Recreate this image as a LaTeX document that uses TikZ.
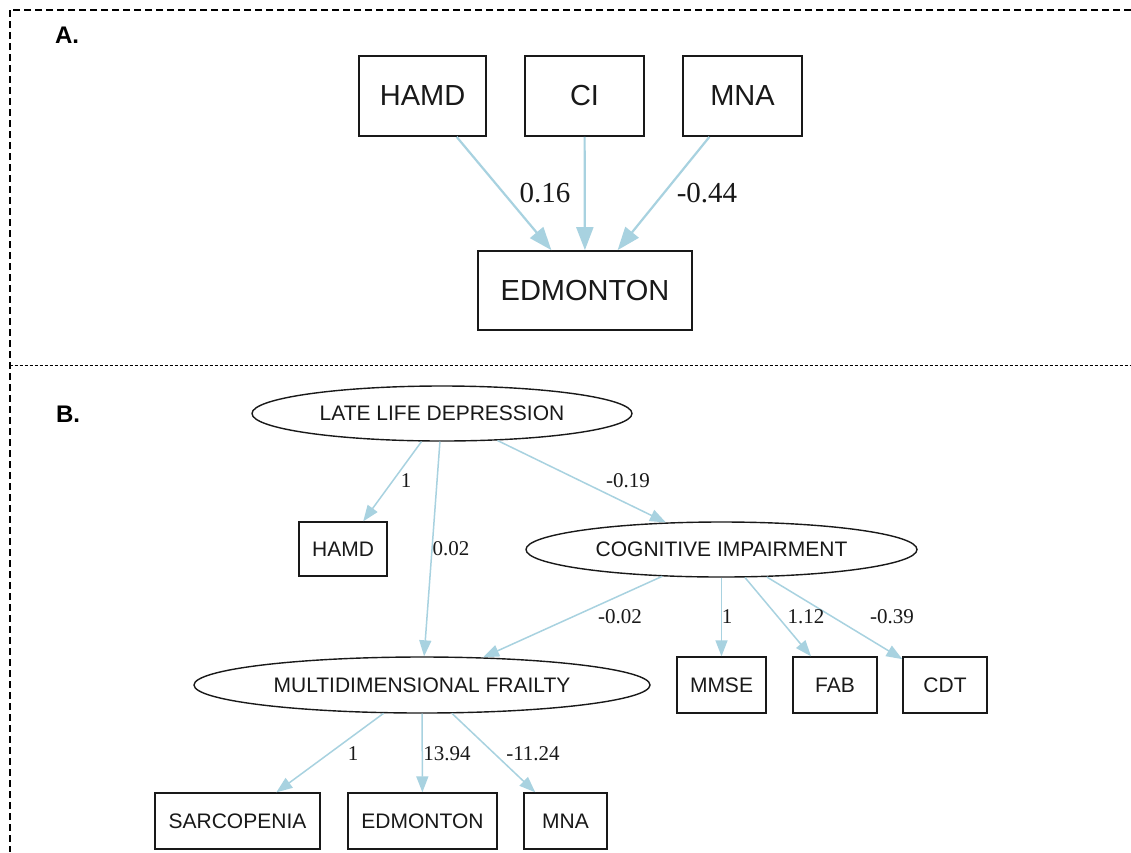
\documentclass[tikz,border=0pt]{standalone}
\usepackage{fontspec}
\setmainfont{Liberation Serif}
\setsansfont{Liberation Sans}
\usetikzlibrary{arrows.meta,shapes.geometric}
\definecolor{edgeblue}{RGB}{168,210,224}
\definecolor{ink}{RGB}{25,25,25}
\begin{document}
\begin{tikzpicture}[x=1pt,y=-1pt,
  boxA/.style={draw=ink, line width=1.8pt, rectangle, inner sep=0pt, text=ink,
    font=\sffamily\fontsize{29}{34}\selectfont},
  boxB/.style={draw=ink, line width=1.4pt, rectangle, inner sep=0pt, text=ink,
    font=\sffamily\fontsize{21}{25}\selectfont},
  latent/.style={draw=ink, line width=1.4pt, ellipse, inner sep=0pt, text=ink,
    font=\sffamily\fontsize{21}{25}\selectfont},
  edgeA/.style={draw=edgeblue, line width=2.2pt, -{Triangle[length=23pt,width=17pt]}},
  edgeB/.style={draw=edgeblue, line width=1.5pt, -{Triangle[length=16pt,width=12pt]}},
  labA/.style={inner sep=0pt, text=ink, font=\fontsize{29}{34}\selectfont},
  labB/.style={inner sep=0pt, text=ink, font=\fontsize{21}{25}\selectfont},
  panel/.style={inner sep=0pt, text=black, font=\sffamily\bfseries\fontsize{24}{28}\selectfont}
]
\useasboundingbox (0,0) rectangle (1131,852);
\fill[white] (0,0) rectangle (1131,852);

% frame
\draw[line width=2pt, dash pattern=on 7pt off 4pt] (1131,9.5) -- (9.5,9.5) -- (9.5,852);
\draw[line width=1pt, dash pattern=on 3pt off 2pt] (9.5,365) -- (1131,365);

% panel labels
\node[panel] (pA) at (67,35) {A.};
\node[panel] (pB) at (68,414) {B.};

% ---------- Panel A ----------
\node[boxA, minimum width=127, minimum height=80] (hamdA) at (422.5,96) {HAMD};
\node[boxA, minimum width=119, minimum height=80] (ciA) at (584.5,96) {CI};
\node[boxA, minimum width=119, minimum height=80] (mnaA) at (742.5,96) {MNA};
\node[boxA, minimum width=214, minimum height=79] (edmA) at (585,290.5) {EDMONTON};

\draw[edgeA] (hamdA) -- (edmA);
\draw[edgeA] (ciA) -- (edmA);
\draw[edgeA] (mnaA) -- (edmA);

\node[labA] (lA1) at (545,193) {0.16};
\node[labA] (lA2) at (707,193) {-0.44};

% ---------- Panel B ----------
\node[latent, minimum width=380, minimum height=55] (lld) at (442,413.5) {LATE LIFE DEPRESSION};
\node[boxB, minimum width=88, minimum height=54] (hamdB) at (343,549) {HAMD};
\node[latent, minimum width=391, minimum height=55] (ci) at (721.5,549.5) {COGNITIVE IMPAIRMENT};
\node[latent, minimum width=456, minimum height=56] (mf) at (422,685) {MULTIDIMENSIONAL FRAILTY};
\node[boxB, minimum width=89, minimum height=56] (mmse) at (721.5,685) {MMSE};
\node[boxB, minimum width=84, minimum height=56] (fab) at (835,685) {FAB};
\node[boxB, minimum width=84, minimum height=56] (cdt) at (945,685) {CDT};
\node[boxB, minimum width=165, minimum height=56] (sarc) at (237.5,821) {SARCOPENIA};
\node[boxB, minimum width=149, minimum height=56] (edmB) at (422.5,821) {EDMONTON};
\node[boxB, minimum width=83, minimum height=56] (mnaB) at (565.5,821) {MNA};

\draw[edgeB] (lld) -- (hamdB);
\draw[edgeB] (lld) -- (ci);
\draw[edgeB] (lld) -- (mf);
\draw[edgeB] (ci) -- (mf);
\draw[edgeB] (ci) -- (mmse);
\draw[edgeB] (ci) -- (fab);
\draw[edgeB] (ci) -- (cdt);
\draw[edgeB] (mf) -- (sarc);
\draw[edgeB] (mf) -- (edmB);
\draw[edgeB] (mf) -- (mnaB);

\node[labB] (l1) at (406,481) {1};
\node[labB] (l2) at (628,481) {-0.19};
\node[labB] (l3) at (451,549) {0.02};
\node[labB] (l4) at (620,617) {-0.02};
\node[labB] (l5) at (727,617) {1};
\node[labB] (l6) at (806,617) {1.12};
\node[labB] (l7) at (892,617) {-0.39};
\node[labB] (l8) at (353,754) {1};
\node[labB] (l9) at (447,754) {13.94};
\node[labB] (l10) at (533,754) {-11.24};
\end{tikzpicture}
\end{document}
